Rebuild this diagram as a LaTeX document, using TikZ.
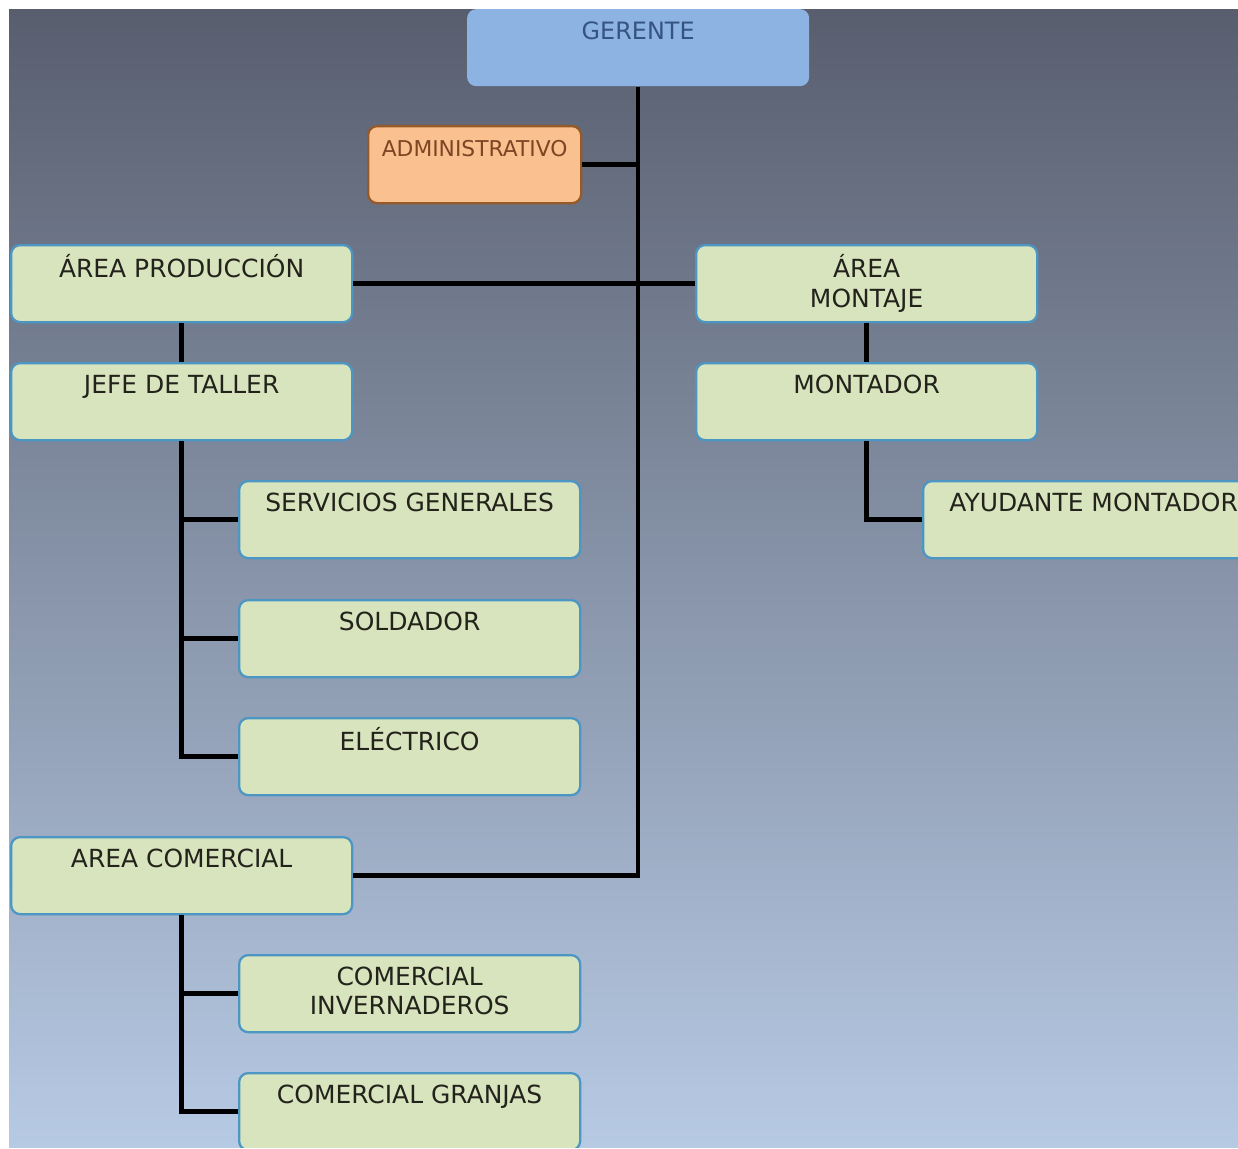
\documentclass[tikz,border=0pt]{standalone}
\usepackage{fontspec}
\setmainfont{DejaVu Sans}
\newlength\px
\setlength\px{0.02cm}
\definecolor{bgtop}{RGB}{88,94,110}
\definecolor{bgbot}{RGB}{183,202,228}
\definecolor{boxfill}{RGB}{216,228,189}
\definecolor{boxedge}{RGB}{75,150,195}
\definecolor{txtdark}{RGB}{35,35,28}
\definecolor{gerfill}{RGB}{141,179,226}
\definecolor{gertext}{RGB}{54,84,130}
\definecolor{admfill}{RGB}{250,192,144}
\definecolor{admedge}{RGB}{150,90,40}
\definecolor{admtext}{RGB}{125,70,35}
\newcommand{\toptext}[2][341]{\parbox[c][77\px][t]{#1\px}{\centering\vspace*{9\px}\strut#2}}
\begin{document}
\begin{tikzpicture}[
        x=1\px, y=-1\px,
        box/.style = {draw=boxedge, fill=boxfill, line width=1.3pt, rounded corners=9\px,
            inner sep=0pt, anchor=north west, text=txtdark,
            font=\fontsize{14.2}{17}\selectfont},
        ger/.style = {box, draw=none, fill=gerfill, text=gertext,
            font=\fontsize{13.6}{17}\selectfont},
        adm/.style = {box, draw=admedge, fill=admfill, text=admtext,
            font=\fontsize{12.4}{17}\selectfont},
        link/.style = {line width=2.5pt, black}
    ]
    \useasboundingbox (0,0) rectangle (1238,1149);
    \clip (9,10) rectangle (1238,1147);
    \shade[top color=bgtop, bottom color=bgbot] (9,10) rectangle (1238,1147);
    % top
    \node[ger] (ger) at (466,8) {\toptext[342]{GERENTE}};
    \node[adm] (adm) at (367,125) {\toptext[213]{ADMINISTRATIVO}};
    % areas
    \node[box] (prod) at (10,244) {\toptext{ÁREA PRODUCCIÓN}};
    \node[box] (mont) at (695,244) {\toptext{ÁREA\\MONTAJE}};
    \node[box] (jefe) at (10,362) {\toptext{JEFE DE TALLER}};
    \node[box] (mtd) at (695,362) {\toptext{MONTADOR}};
    \node[box] (serv) at (238,480) {\toptext{SERVICIOS GENERALES}};
    \node[box] (ayu) at (922,480) {\toptext{AYUDANTE MONTADOR}};
    \node[box] (sold) at (238,599) {\toptext{SOLDADOR}};
    \node[box] (elec) at (238,717) {\toptext{ELÉCTRICO}};
    \node[box] (com) at (10,836) {\toptext{AREA COMERCIAL}};
    \node[box] (inv) at (238,954) {\toptext{COMERCIAL\\INVERNADEROS}};
    \node[box] (gra) at (238,1072) {\toptext{COMERCIAL GRANJAS}};
    % connectors
    \draw[link] (ger.south) |- (com.east);
    \draw[link] (adm.east) -- (adm.east -| ger.south);
    \draw[link] (prod.east) -- (mont.west);
    \draw[link] (prod.south) -- (jefe.north);
    \draw[link] (mont.south) -- (mtd.north);
    \draw[link] (mtd.south) |- (ayu.west);
    \foreach \n in {serv, sold, elec}
        \draw[link] (jefe.south) |- (\n.west);
    \foreach \n in {inv, gra}
        \draw[link] (com.south) |- (\n.west);
\end{tikzpicture}
\end{document}
